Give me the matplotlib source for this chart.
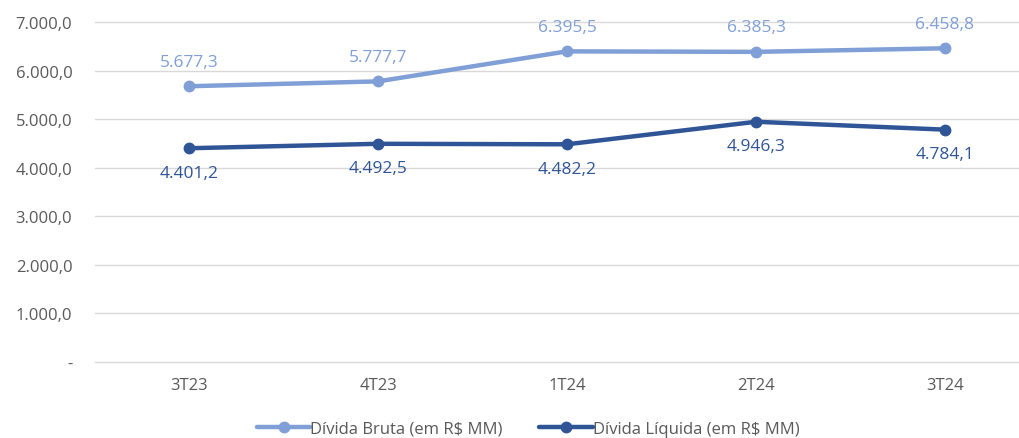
import matplotlib.pyplot as plt
from matplotlib.ticker import FuncFormatter

plt.rcParams["font.family"] = ["Open Sans", "DejaVu Sans"]

quarters = ["3T23", "4T23", "1T24", "2T24", "3T24"]
divida_bruta = [5677.3, 5777.7, 6395.5, 6385.3, 6458.8]
divida_liquida = [4401.2, 4492.5, 4482.2, 4946.3, 4784.1]

light = "#7F9FD6"
dark = "#2F5597"


def br(v, decimals=1):
    s = f"{v:,.{decimals}f}"
    return s.replace(",", "X").replace(".", ",").replace("X", ".")


def ytick(v, pos):
    if v == 0:
        return "-"
    return br(v)


fig = plt.figure(figsize=(10.19, 4.39), dpi=100)
ax = fig.add_axes([94.5 / 1019, 0.1731, 945 / 1019, 0.7745])

x = range(len(quarters))
ax.plot(x, divida_bruta, color=light, lw=3.2, marker="o", ms=7.5,
        label="Dívida Bruta (em R$ MM)", solid_capstyle="round")
ax.plot(x, divida_liquida, color=dark, lw=3.2, marker="o", ms=7.5,
        label="Dívida Líquida (em R$ MM)", solid_capstyle="round")

for i, v in enumerate(divida_bruta):
    ax.annotate(br(v), (i, v), xytext=(0, 12), textcoords="offset points",
                ha="center", va="bottom", color=light, fontsize=12.5)
for i, v in enumerate(divida_liquida):
    ax.annotate(br(v), (i, v), xytext=(0, -12), textcoords="offset points",
                ha="center", va="top", color=dark, fontsize=12.5)

ax.set_xlim(-0.5, 4.5)
ax.set_ylim(0, 7000)
ax.set_yticks(range(0, 7001, 1000))
ax.yaxis.set_major_formatter(FuncFormatter(ytick))
ax.set_xticks(list(x))
ax.set_xticklabels(quarters)
ax.tick_params(length=0, labelsize=12, labelcolor="#595959")
ax.tick_params(axis="y", pad=16)
ax.tick_params(axis="x", pad=11)
for gy in range(0, 7001, 1000):
    ax.axhline(gy, color="#D9D9D9", lw=1, zorder=0, clip_on=False)
for s in ax.spines.values():
    s.set_visible(False)

leg = fig.legend(loc="center", bbox_to_anchor=(528 / 1019, 1 - 430 / 439), ncol=2,
                 frameon=False, fontsize=12, handlelength=3.2, columnspacing=2.2,
                 handletextpad=0.0)
for t in leg.get_texts():
    t.set_color("#595959")

fig.savefig("out.png", dpi=100)
